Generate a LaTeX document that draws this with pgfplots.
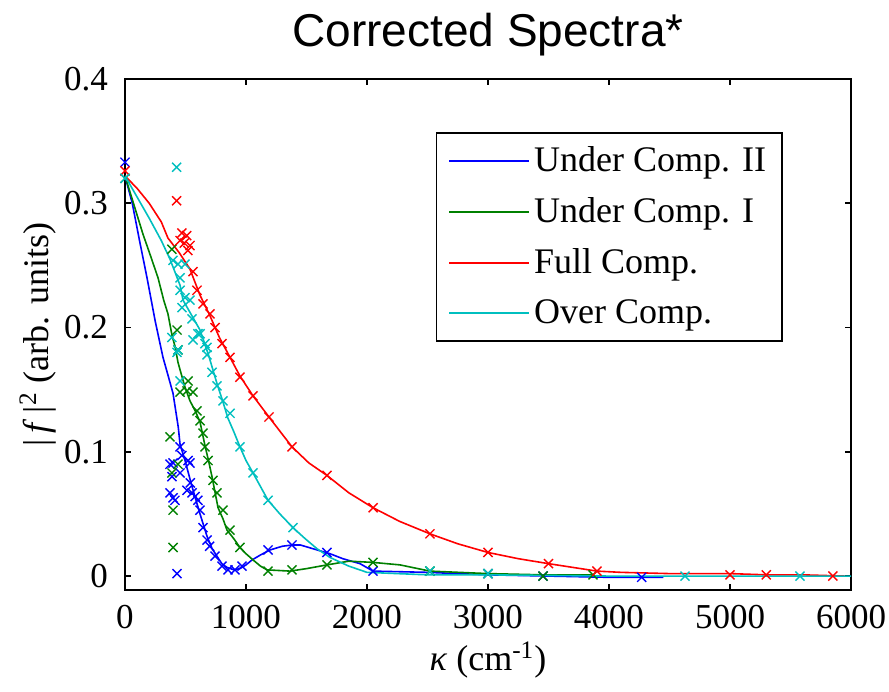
\documentclass[border=0pt]{standalone}
\usepackage{pgfplots}
\pgfplotsset{compat=1.18}
\usepackage{fontspec}
\setmainfont{Liberation Serif}
\newfontfamily\arialfont{Liberation Sans}
\definecolor{mblue}{rgb}{0,0,1}
\definecolor{mgreen}{rgb}{0,0.5,0}
\definecolor{mred}{rgb}{1,0,0}
\definecolor{mcyan}{rgb}{0,0.75,0.75}
\begin{document}
\begin{tikzpicture}
\begin{axis}[name=ax, scale only axis, width=363pt, height=255.5pt,
  xmin=0, xmax=6000, ymin=-0.0112, ymax=0.4,
  xtick={0,1000,2000,3000,4000,5000,6000},
  ytick={0,0.1,0.2,0.3,0.4},
  /pgf/number format/assume math mode=true,
  /pgf/number format/set thousands separator={},
  scaled x ticks=false, scaled y ticks=false,
  yticklabel style={/pgf/number format/fixed, /pgf/number format/precision=1, xshift=-5pt},
  xticklabel style={yshift=-4pt},
  tick align=inside, major tick length=3pt,
  ticklabel style={font=\fontsize{17.5}{20}\selectfont},
  axis line style={line width=0.8pt},
  every tick/.style={black, line width=0.8pt},
  legend style={at={(0.428,0.896)}, anchor=north west, draw=black, line width=0.8pt,
    font=\fontsize{18}{21}\selectfont, inner xsep=6pt, inner ysep=5pt, row sep=7.5pt,
    cells={anchor=west}},
  legend image code/.code={\draw[#1, line width=0.8pt] (0pt,0pt) -- (40pt,0pt);},
  mark options={line width=0.7pt},
]
% ---- Under Comp. II (blue)
\addplot[only marks, mark=x, mark size=3.2pt, color=mblue, forget plot] coordinates {
(0,0.333) (372,0.090) (388,0.080) (372,0.067) (413,0.061) (430,0.002) (397,0.091) (397,0.063)
(455,0.104) (455,0.083) (470,0.097) (521,0.093) (512,0.069) (537,0.091) (540,0.075) (554,0.067)
(580,0.064) (603,0.061) (620,0.053) (645,0.039) (678,0.029) (700,0.024) (744,0.016) (802,0.008)
(851,0.005) (909,0.005) (967,0.008) (1182,0.021) (1380,0.025) (1669,0.019) (2050,0.004)
(3000,0.002) (3455,0.000) (4270,-0.001)};
\addplot[color=mblue, line width=0.8pt, no marks] coordinates {
(0,0.322) (60,0.300) (120,0.270) (182,0.240) (250,0.205) (314,0.176) (360,0.160) (397,0.147)
(440,0.120) (455,0.106) (496,0.093) (554,0.072) (620,0.050) (678,0.032) (720,0.022) (760,0.016)
(800,0.010) (843,0.007) (900,0.005) (950,0.006) (1000,0.009) (1050,0.013) (1120,0.017) (1198,0.021)
(1300,0.024) (1380,0.025) (1450,0.025) (1554,0.022) (1694,0.018) (1800,0.014) (1942,0.010)
(2050,0.004) (2500,0.003) (3000,0.001) (3500,0.000) (4000,-0.001) (4450,-0.001)};
\addlegendentry{Under Comp. II}
% ---- Under Comp. I (green)
\addplot[only marks, mark=x, mark size=3.2pt, color=mgreen, forget plot] coordinates {
(0,0.320) (388,0.263) (430,0.198) (438,0.182) (372,0.112) (438,0.090) (388,0.083) (397,0.053)
(397,0.023) (455,0.148) (512,0.149) (562,0.148) (521,0.157) (595,0.133) (620,0.125) (645,0.115)
(661,0.104) (686,0.093) (727,0.077) (760,0.067) (810,0.053) (868,0.037) (950,0.023) (1182,0.004)
(1380,0.005) (1669,0.009) (2050,0.011) (2520,0.004) (3000,0.002) (3455,0.000) (3868,0.001)};
\addplot[color=mgreen, line width=0.8pt, no marks] coordinates {
(0,0.322) (70,0.300) (149,0.275) (210,0.258) (273,0.240) (320,0.222) (355,0.211) (390,0.193)
(413,0.185) (438,0.172) (455,0.166) (496,0.152) (537,0.141) (580,0.133) (620,0.124) (661,0.105)
(690,0.093) (719,0.080) (769,0.055) (810,0.046) (843,0.037) (900,0.030) (950,0.023) (1000,0.018)
(1058,0.013) (1120,0.008) (1174,0.005) (1364,0.004) (1500,0.006) (1669,0.009) (1850,0.012)
(2050,0.011) (2273,0.009) (2520,0.004) (3000,0.002) (3455,0.001) (3868,0.001)};
\addlegendentry{Under Comp. I}
% ---- Full Comp. (red)
\addplot[only marks, mark=x, mark size=3.2pt, color=mred, forget plot] coordinates {
(0,0.326) (427,0.302) (455,0.270) (470,0.276) (490,0.268) (510,0.274) (520,0.262) (537,0.266)
(562,0.245) (595,0.230) (645,0.219) (702,0.211) (744,0.200) (802,0.187) (868,0.176) (950,0.160)
(1058,0.145) (1190,0.128) (1380,0.104) (1669,0.081) (2050,0.055) (2520,0.034) (3000,0.019)
(3500,0.010) (3900,0.004) (5000,0.001) (5300,0.001) (5850,0.000)};
\addplot[color=mred, line width=0.8pt, no marks] coordinates {
(0,0.322) (100,0.312) (200,0.300) (300,0.285) (355,0.272) (450,0.260) (537,0.247) (620,0.226)
(700,0.210) (780,0.192) (868,0.176) (950,0.161) (1058,0.145) (1190,0.128) (1380,0.104) (1520,0.091)
(1669,0.081) (1850,0.067) (2050,0.055) (2270,0.044) (2520,0.034) (2750,0.026) (3000,0.019)
(3250,0.014) (3500,0.010) (3700,0.007) (3900,0.004) (4100,0.003) (4500,0.002) (5000,0.002)
(5300,0.001) (5600,0.001) (5950,0.000)};
\addlegendentry{Full Comp.}
% ---- Over Comp. (cyan)
\addplot[only marks, mark=x, mark size=3.2pt, color=mcyan, forget plot] coordinates {
(0,0.320) (427,0.329) (397,0.254) (438,0.251) (496,0.251) (455,0.240) (455,0.230) (496,0.224)
(471,0.216) (537,0.222) (554,0.207) (603,0.195) (388,0.192) (438,0.182) (678,0.184) (430,0.180)
(455,0.157) (562,0.190) (620,0.195) (661,0.187) (678,0.178) (719,0.164) (760,0.153) (810,0.141)
(868,0.131) (950,0.104) (1058,0.083) (1182,0.061) (1388,0.039) (2520,0.004) (3000,0.002)
(4628,0.000) (5578,0.000)};
\addplot[color=mcyan, line width=0.8pt, no marks] coordinates {
(0,0.322) (100,0.305) (200,0.288) (300,0.270) (372,0.255) (455,0.234) (480,0.222) (550,0.210)
(620,0.198) (690,0.178) (760,0.155) (810,0.140) (851,0.127) (900,0.116) (950,0.104) (1000,0.093)
(1058,0.083) (1120,0.072) (1182,0.061) (1280,0.050) (1388,0.039) (1490,0.030) (1587,0.022)
(1694,0.015) (1850,0.008) (2000,0.003) (2500,0.001) (3000,0.001) (4000,0.000) (5000,0.000) (6000,0.000)};
\addlegendentry{Over Comp.}
\end{axis}
\node[font=\arialfont\fontsize{23}{27}\selectfont] at ([yshift=22pt]ax.north) {Corrected Spectra*};
\node[font=\fontsize{18}{21}\selectfont] at ([yshift=-35pt]ax.south) {\textit{κ} (cm\textsuperscript{-1})};
\node[font=\fontsize{18}{21}\selectfont, rotate=90] at ([xshift=-43.5pt]ax.west) {|\,\textit{f}\,|\textsuperscript{2} (arb. units)};
\pgfresetboundingbox
\path ([shift={(-62.5pt,-50.5pt)}]ax.south west) rectangle ([shift={(19pt,39.5pt)}]ax.north east);
\end{tikzpicture}
\end{document}
